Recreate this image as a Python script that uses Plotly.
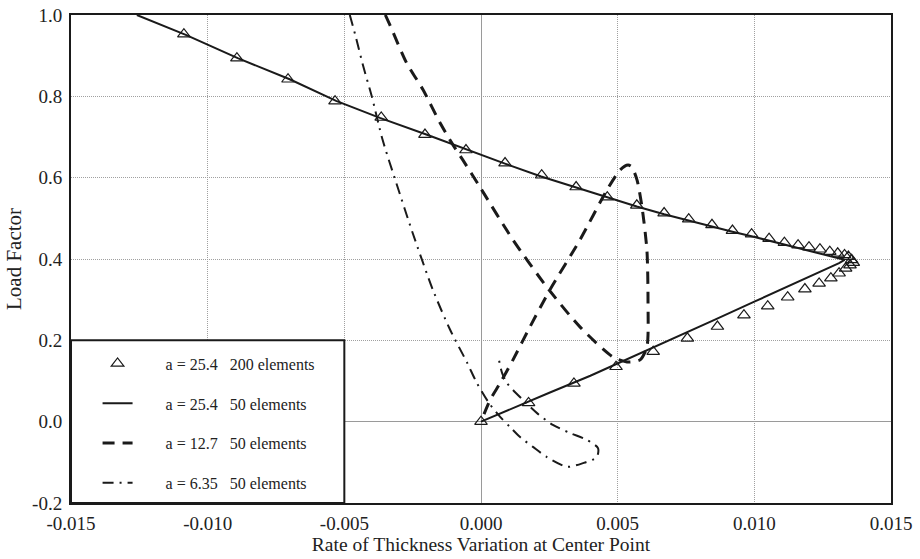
import plotly.graph_objects as go

# ---- data ----
tri_x = [-0.01087, -0.00893, -0.00706, -0.00534, -0.00365, -0.00205, -0.00055, 0.00088, 0.00222, 0.00348,
         0.00462, 0.0057, 0.0067, 0.0076, 0.00845, 0.0092, 0.0099, 0.01054, 0.0111, 0.0116,
         0.0120, 0.0124, 0.01276, 0.01305, 0.0133, 0.01344, 0.01356, 0.01362, 0.0135, 0.01334,
         0.0131, 0.0128, 0.01237, 0.01185, 0.01122, 0.01049, 0.00962, 0.00865, 0.00755, 0.0063,
         0.00494, 0.0034, 0.00174, 0.0]
tri_y = [0.953, 0.894, 0.842, 0.788, 0.748, 0.706, 0.668, 0.636, 0.606, 0.577,
         0.552, 0.532, 0.513, 0.498, 0.484, 0.470, 0.461, 0.450, 0.440, 0.434,
         0.429, 0.424, 0.418, 0.414, 0.410, 0.406, 0.398, 0.391, 0.385, 0.377,
         0.365, 0.353, 0.340, 0.326, 0.306, 0.284, 0.262, 0.234, 0.205, 0.172,
         0.135, 0.094, 0.046, 0.0]

sol_x = [-0.01259, -0.0108, -0.0089, -0.0070, -0.0053, -0.0037, -0.0020, -0.0005, 0.0009, 0.0022,
         0.0035, 0.0047, 0.0057, 0.0067, 0.0076, 0.0084, 0.0092, 0.0099, 0.0105, 0.0111,
         0.0116, 0.0121, 0.0125, 0.0129, 0.0133, 0.0131, 0.0125, 0.0115, 0.0100, 0.0085,
         0.0070, 0.0055, 0.0040, 0.0025, 0.0010, 0.0]
sol_y = [1.0, 0.951, 0.894, 0.842, 0.789, 0.747, 0.706, 0.668, 0.634, 0.603,
         0.575, 0.549, 0.529, 0.510, 0.494, 0.480, 0.467, 0.456, 0.446, 0.436,
         0.428, 0.418, 0.412, 0.405, 0.398, 0.390, 0.372, 0.341, 0.295, 0.249,
         0.203, 0.158, 0.113, 0.071, 0.028, 0.0]

dash_x = [-0.0035, -0.00333, -0.00272, -0.00212, -0.00150, -0.00102, -0.00066, -0.00004, 0.00117, 0.00241,
          0.00362, 0.00483, 0.00534, 0.00582, 0.00607, 0.00611, 0.00607, 0.00589, 0.00571, 0.00552,
          0.00538, 0.00509, 0.00461, 0.00362, 0.00252, 0.00179, 0.00117, 0.00070, 0.00033, 0.0]
dash_y = [1.0, 0.975, 0.882, 0.816, 0.735, 0.680, 0.643, 0.577, 0.447, 0.331,
          0.233, 0.159, 0.147, 0.152, 0.184, 0.299, 0.422, 0.528, 0.594, 0.626,
          0.631, 0.619, 0.570, 0.447, 0.324, 0.233, 0.152, 0.095, 0.053, 0.0]

dd_x = [-0.0048, -0.0046, -0.0043, -0.0040, -0.0036, -0.0031, -0.0025, -0.00176, -0.00113, -0.0005,
        -0.00015, 0.0003, 0.0007, 0.00106, 0.00143, 0.0019, 0.00241, 0.00315, 0.00373, 0.00424,
        0.00428, 0.00388, 0.00326, 0.00263, 0.00205, 0.00154, 0.00117, 0.00095, 0.00077, 0.00062]
dd_y = [1.0, 0.951, 0.872, 0.801, 0.693, 0.587, 0.464, 0.324, 0.226, 0.144,
        0.095, 0.045, 0.012, -0.013, -0.038, -0.062, -0.087, -0.111, -0.102, -0.087,
        -0.065, -0.045, -0.028, -0.008, 0.021, 0.053, 0.078, 0.095, 0.120, 0.164]

series_names = ["a = 25.4\u00a0\u00a0\u00a0200 elements",
                "a = 25.4\u00a0\u00a0\u00a050 elements",
                "a = 12.7\u00a0\u00a0\u00a050 elements",
                "a = 6.35\u00a0\u00a0\u00a050 elements"]

x_tickvals = [-0.015, -0.010, -0.005, 0.0, 0.005, 0.010, 0.015]
x_ticktext = ["-0.015", "-0.010", "-0.005", "0.000", "0.005", "0.010", "0.015"]
y_tickvals = [-0.2, 0.0, 0.2, 0.4, 0.6, 0.8, 1.0]
y_ticktext = ["-0.2", "0.0", "0.2", "0.4", "0.6", "0.8", "1.0"]

FONT = "Liberation Serif"
INK = "#1a1a1a"
pad = "\u00a0" * 7

fig = go.Figure()
fig.add_trace(go.Scatter(x=sol_x, y=sol_y, mode="lines", name=pad + series_names[1],
                         line=dict(color=INK, width=2), legendrank=2, legendgroup="b"))
fig.add_trace(go.Scatter(x=dash_x, y=dash_y, mode="lines", name=pad + series_names[2],
                         line=dict(color=INK, width=3, dash="12px,8px", shape="spline", smoothing=0.7),
                         legendrank=3, legendgroup="c"))
fig.add_trace(go.Scatter(x=dd_x, y=dd_y, mode="lines", name=pad + series_names[3],
                         line=dict(color=INK, width=2, dash="11px,6px,2px,6px", shape="spline", smoothing=0.7),
                         legendrank=4, legendgroup="d"))
fig.add_trace(go.Scatter(x=tri_x, y=tri_y, mode="markers", name=pad + series_names[0],
                         marker=dict(symbol="triangle-up-open", size=11, color=INK, line=dict(width=1.2, color=INK)),
                         legendrank=1, legendgroup="a"))

fig.add_shape(type="rect", xref="x", yref="y", x0=-0.015, x1=-0.005, y0=-0.2, y1=0.2,
              line=dict(color=INK, width=2), fillcolor="white", layer="above")

axis_common = dict(showline=True, mirror=True, linecolor=INK, linewidth=2,
                   showgrid=True, gridcolor="#a0a0a0", griddash="1px,1px", gridwidth=1,
                   zeroline=True, zerolinecolor="#9a9a9a", zerolinewidth=1,
                   ticks="", tickfont=dict(family=FONT, size=19, color="#222"),
                   automargin=False)

fig.update_layout(
    width=920, height=559,
    margin=dict(l=71, r=29, t=15, b=56),
    paper_bgcolor="white", plot_bgcolor="white",
    font=dict(family=FONT, color="#222"),
    xaxis=dict(range=[-0.015, 0.015], tickvals=x_tickvals, ticktext=x_ticktext,
               title=dict(text="Rate of Thickness Variation at Center Point",
                          font=dict(family=FONT, size=19.5, color="#222"), standoff=0),
               ticklabelstandoff=2, **axis_common),
    yaxis=dict(range=[-0.2, 1.0], tickvals=y_tickvals, ticktext=y_ticktext,
               title=dict(text="Load Factor", font=dict(family=FONT, size=21, color="#222"), standoff=5),
               ticklabelstandoff=3, **axis_common),
    showlegend=True,
    legend=dict(x=0.0324, y=0.005, xanchor="left", yanchor="bottom",
                bgcolor="rgba(0,0,0,0)", borderwidth=0,
                font=dict(family=FONT, size=16, color="#222"),
                traceorder="grouped", tracegroupgap=16, itemwidth=30),
)

fig.write_html("out.html")
